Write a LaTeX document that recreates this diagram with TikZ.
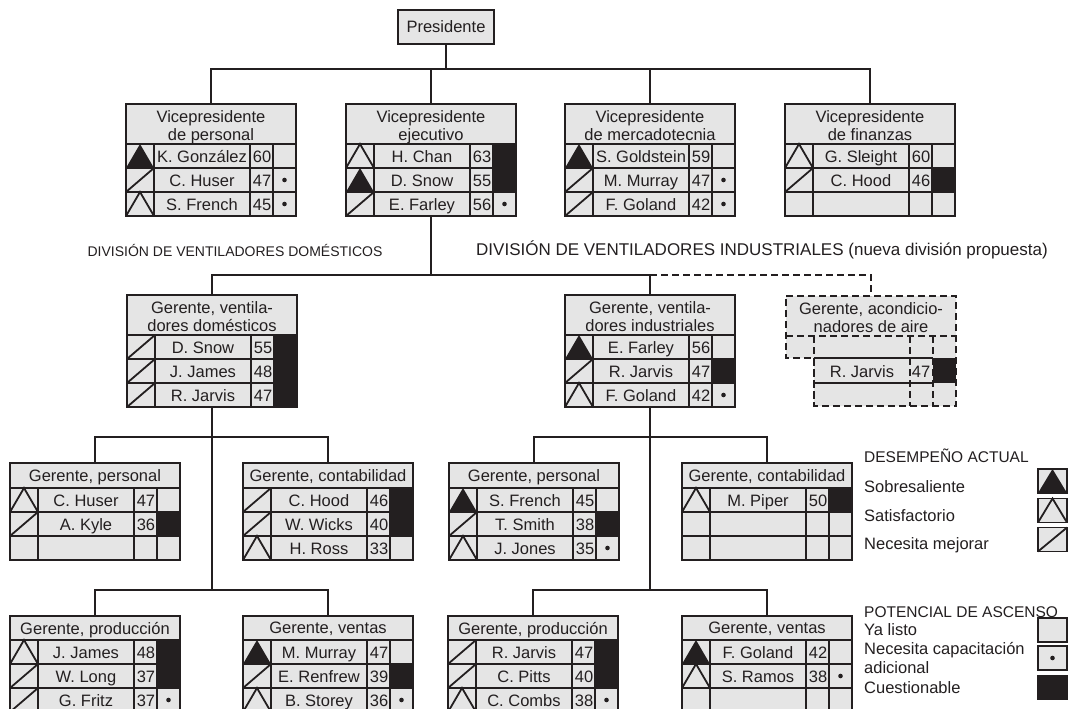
\documentclass[tikz,border=0pt]{standalone}
\usepackage{fontspec}
\setmainfont{Liberation Sans}
\usetikzlibrary{calc}
\definecolor{boxgray}{RGB}{229,229,229}
\definecolor{ink}{RGB}{35,31,32}
\tikzset{
  obox/.style={draw=ink, fill=boxgray, line width=2pt, minimum width=170pt, outer sep=0pt, inner sep=0pt},
  grid/.style={draw=ink, line width=1.8pt},
  dline/.style={draw=ink, line width=2pt, dash pattern=on 7pt off 4pt},
  conn/.style={draw=ink, line width=2.6pt},
  dconn/.style={conn, dash pattern=on 7pt off 4pt},
  btext/.style={font=\fontsize{16.5}{18}\selectfont, text=ink, inner sep=0pt, text height=11.8pt, text depth=0pt},
  htext/.style={font=\fontsize{16.5}{18}\selectfont, text=ink, inner sep=0pt, align=center},
  divtext/.style={font=\fontsize{14}{17}\selectfont, text=ink, inner sep=0pt},
  legtext/.style={font=\fontsize{16.5}{19}\selectfont, text=ink, inner sep=0pt, anchor=west, align=left},
  legtitle/.style={font=\fontsize{15.5}{19}\selectfont, text=ink, inner sep=0pt, anchor=west, text height=11.2pt, text depth=0pt},
  legbox/.style={draw=ink, fill=boxgray, line width=1.8pt, minimum width=29pt, minimum height=24pt, outer sep=0pt, inner sep=0pt},
}
\newcommand\iconS[2]{\fill[ink] (0,#2) -- (14,#1) -- (28,#2) -- cycle;}
\newcommand\iconT[2]{\draw[grid] (0,#2) -- (14,#1) -- (28,#2);}
\newcommand\iconN[2]{\draw[grid] (0,#2) -- (28,#1);}
\newcommand\iconE[2]{}
\newcommand\potE[2]{}
\newcommand\potD[2]{\fill[ink] (158.5,{(#1+#2)/2}) circle[radius=2.3pt];}
\newcommand\potB[2]{\fill[ink] (147,#1) rectangle (170,#2);}
% box: #1 name, #2 centre x, #3 top y, #4 header height, #5 header text
\newcommand\orgbox[5]{%
  \pgfmathsetmacro\obh{#4+72}%
  \node[obox, minimum height=\obh pt, anchor=north] (#1) at (#2,#3) {};
  \begin{scope}[shift={(#1.north west)}]
    \node[htext, anchor=north] (#1-h) at (85,6) {#5};
    \draw[grid] (0,#4) -- (170,#4);
    \draw[grid] (0,#4+24) -- (170,#4+24);
    \draw[grid] (0,#4+48) -- (170,#4+48);
    \draw[grid] (28,#4) -- (28,\obh) (124,#4) -- (124,\obh) (147,#4) -- (147,\obh);
  \end{scope}}
% row: #1 box, #2 header height, #3 row, #4 icon, #5 name, #6 number, #7 potential
\newcommand\orow[7]{%
  \begin{scope}[shift={(#1.north west)}]
    \pgfmathsetmacro\ort{#2+(#3-1)*24}%
    \pgfmathsetmacro\orb{#2+#3*24}%
    \pgfmathsetmacro\orm{#2+(#3-0.5)*24+1}%
    \csname pot#7\endcsname{\ort}{\orb}%
    \csname icon#4\endcsname{\ort}{\orb}%
    \node[btext] (#1-n#3) at (76,\orm) {#5};
    \node[btext] (#1-v#3) at (136,\orm) {#6};
  \end{scope}}
\begin{document}
\begin{tikzpicture}[x=1pt, y=-1pt]
\useasboundingbox (0,0) rectangle (1068,709);
\fill[white] (0,0) rectangle (1068,709);
\clip (0,0) rectangle (1068,709);

% President
\node[obox, minimum width=96pt, minimum height=34pt, btext] (pres) at (446,27) {Presidente};

% Vice presidents
\orgbox{vp1}{211}{104}{40}{Vicepresidente\\de personal}
\orow{vp1}{40}{1}{S}{K. González}{60}{E}
\orow{vp1}{40}{2}{N}{C. Huser}{47}{D}
\orow{vp1}{40}{3}{T}{S. French}{45}{D}

\orgbox{vp2}{431}{104}{40}{Vicepresidente\\ejecutivo}
\orow{vp2}{40}{1}{T}{H. Chan}{63}{B}
\orow{vp2}{40}{2}{S}{D. Snow}{55}{B}
\orow{vp2}{40}{3}{N}{E. Farley}{56}{D}

\orgbox{vp3}{650}{104}{40}{Vicepresidente\\de mercadotecnia}
\orow{vp3}{40}{1}{S}{S. Goldstein}{59}{E}
\orow{vp3}{40}{2}{N}{M. Murray}{47}{D}
\orow{vp3}{40}{3}{N}{F. Goland}{42}{D}

\orgbox{vp4}{870}{104}{40}{Vicepresidente\\de finanzas}
\orow{vp4}{40}{1}{T}{G. Sleight}{60}{E}
\orow{vp4}{40}{2}{N}{C. Hood}{46}{B}

% Division labels
\node[divtext] (dl) at (235,250) {DIVISIÓN DE VENTILADORES DOMÉSTICOS};
\node[divtext, font=\fontsize{17}{19}\selectfont] (dr) at (762,250) {DIVISIÓN DE VENTILADORES INDUSTRIALES (nueva división propuesta)};

% Division managers
\orgbox{gd}{212}{295}{40}{Gerente, ventila-\\dores domésticos}
\orow{gd}{40}{1}{N}{D. Snow}{55}{B}
\orow{gd}{40}{2}{N}{J. James}{48}{B}
\orow{gd}{40}{3}{N}{R. Jarvis}{47}{B}

\orgbox{gi}{650}{295}{40}{Gerente, ventila-\\dores industriales}
\orow{gi}{40}{1}{S}{E. Farley}{56}{E}
\orow{gi}{40}{2}{N}{R. Jarvis}{47}{B}
\orow{gi}{40}{3}{T}{F. Goland}{42}{D}

% Proposed air-conditioning manager (dashed)
\fill[boxgray] (786,296) -- (956,296) -- (956,406) -- (814,406) -- (814,358) -- (786,358) -- cycle;
\fill[ink] (933,358) rectangle (956,383);
\draw[dline] (786,296) -- (956,296) -- (956,406) -- (814,406) -- (814,358) -- (786,358) -- cycle;
\draw[dline] (786,336) -- (956,336);
\draw[dline] (814,336) -- (814,406) (910,336) -- (910,406) (933,336) -- (933,406);
\draw[grid] (814,358) -- (933,358) (814,383) -- (933,383);
\node[minimum width=170pt, minimum height=40pt, inner sep=0pt, outer sep=0pt, anchor=north] (ac) at (871,296) {};
\node[htext, anchor=north] (ac-h) at (871,302) {Gerente, acondicio-\\nadores de aire};
\node[btext] (ac-n2) at (862,371.5) {R. Jarvis};
\node[btext] (ac-v2) at (921,371.5) {47};

% Level 3
\orgbox{p1}{95}{463}{25}{Gerente, personal}
\orow{p1}{25}{1}{T}{C. Huser}{47}{E}
\orow{p1}{25}{2}{N}{A. Kyle}{36}{B}

\orgbox{c1}{328}{463}{25}{Gerente, contabilidad}
\orow{c1}{25}{1}{N}{C. Hood}{46}{B}
\orow{c1}{25}{2}{N}{W. Wicks}{40}{B}
\orow{c1}{25}{3}{T}{H. Ross}{33}{E}

\orgbox{p2}{534}{463}{25}{Gerente, personal}
\orow{p2}{25}{1}{S}{S. French}{45}{E}
\orow{p2}{25}{2}{N}{T. Smith}{38}{B}
\orow{p2}{25}{3}{T}{J. Jones}{35}{D}

\orgbox{c2}{767}{463}{25}{Gerente, contabilidad}
\orow{c2}{25}{1}{T}{M. Piper}{50}{B}

% Level 4
\orgbox{r1}{95}{616}{24}{Gerente, producción}
\orow{r1}{24}{1}{T}{J. James}{48}{B}
\orow{r1}{24}{2}{N}{W. Long}{37}{B}
\orow{r1}{24}{3}{N}{G. Fritz}{37}{D}

\orgbox{s1}{328}{616}{24}{Gerente, ventas}
\orow{s1}{24}{1}{S}{M. Murray}{47}{E}
\orow{s1}{24}{2}{N}{E. Renfrew}{39}{B}
\orow{s1}{24}{3}{T}{B. Storey}{36}{D}

\orgbox{r2}{533}{616}{24}{Gerente, producción}
\orow{r2}{24}{1}{N}{R. Jarvis}{47}{B}
\orow{r2}{24}{2}{N}{C. Pitts}{40}{B}
\orow{r2}{24}{3}{T}{C. Combs}{38}{D}

\orgbox{s2}{767}{616}{24}{Gerente, ventas}
\orow{s2}{24}{1}{S}{F. Goland}{42}{E}
\orow{s2}{24}{2}{T}{S. Ramos}{38}{D}

% Connectors
\coordinate (bus0) at (446,69);
\coordinate (bus1) at (431,275);
\coordinate (bus2) at (212,437);
\coordinate (bus3) at (212,590);
\draw[conn] (pres.south) -- (bus0);
\draw[conn] (vp1.north) -- (vp1.north |- bus0) -- (vp4.north |- bus0) -- (vp4.north);
\draw[conn] (vp2.north) -- (vp2.north |- bus0);
\draw[conn] (vp3.north) -- (vp3.north |- bus0);
\draw[conn] (vp2.south) -- (bus1);
\draw[conn] (gd.north) -- (gd.north |- bus1) -- (gi.north |- bus1) -- (gi.north);
\draw[dconn] (gi.north |- bus1) -| (ac.north);
\draw[conn] (gd.south) -- (gd.south |- bus3);
\draw[conn] (p1.north) -- (p1.north |- bus2) -- (c1.north |- bus2) -- (c1.north);
\draw[conn] (r1.north) -- (r1.north |- bus3) -- (s1.north |- bus3) -- (s1.north);
\draw[conn] (gi.south) -- (gi.south |- bus3);
\draw[conn] (p2.north) -- (p2.north |- bus2) -- (c2.north |- bus2) -- (c2.north);
\draw[conn] (r2.north) -- (r2.north |- bus3) -- (s2.north |- bus3) -- (s2.north);

% Legend
\node[legtitle] (lg1) at (864,457) {DESEMPEÑO ACTUAL};
\node[legtext] (lg2) at (864,487) {Sobresaliente};
\node[legtext] (lg3) at (864,516) {Satisfactorio};
\node[legtext] (lg4) at (864,545) {Necesita mejorar};
\node[legbox] (li2) at (1052.5,481) {};
\node[legbox] (li3) at (1052.5,510.5) {};
\node[legbox] (li4) at (1052.5,539.5) {};
\fill[ink] (li2.south west) -- (li2.north) -- (li2.south east) -- cycle;
\draw[grid] (li3.south west) -- (li3.north) -- (li3.south east);
\draw[grid] (li4.south west) -- (li4.north east);

\node[legtitle] (lg5) at (864,612) {POTENCIAL DE ASCENSO};
\node[legtext] (lg6) at (864,630) {Ya listo};
\node[legtext] (lg7) at (864,658) {Necesita capacitación\\adicional};
\node[legtext] (lg8) at (864,688) {Cuestionable};
\node[legbox] (li6) at (1052.5,630) {};
\node[legbox] (li7) at (1052.5,658) {};
\node[legbox, fill=ink] (li8) at (1052.5,687.5) {};
\fill[ink] (li7.center) circle[radius=2.3pt];
\end{tikzpicture}
\end{document}
